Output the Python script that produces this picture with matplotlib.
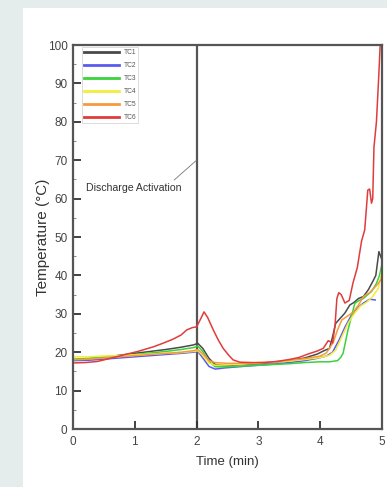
import matplotlib.pyplot as plt
from matplotlib.patches import Rectangle

# thermocouple readings, time in minutes, temperature in deg C
tc1_t = [0, 0.25, 0.5, 0.75, 1.0, 1.25, 1.5, 1.75, 1.95, 2.02, 2.1, 2.2, 2.3, 2.5, 2.75, 3.0,
         3.25, 3.5, 3.75, 3.95, 4.05, 4.15, 4.2, 4.25, 4.3, 4.4, 4.48, 4.55, 4.62, 4.7, 4.78,
         4.85, 4.9, 4.95, 5.0]
tc1_v = [18.0, 18.3, 18.7, 19.2, 19.7, 20.2, 20.7, 21.3, 21.9, 22.3, 21.0, 18.4, 16.8, 16.5,
         16.8, 17.0, 17.3, 17.8, 18.5, 19.5, 20.3, 21.0, 24.0, 27.5, 28.4, 30.2, 32.3, 33.0,
         34.0, 34.5, 36.3, 38.4, 40.0, 46.2, 44.0]

tc2_t = [0, 0.25, 0.5, 0.75, 1.0, 1.25, 1.5, 1.75, 1.95, 2.02, 2.1, 2.2, 2.3, 2.45, 2.75, 3.0,
         3.25, 3.5, 3.75, 3.95, 4.1, 4.2, 4.3, 4.4, 4.5, 4.6, 4.7, 4.8, 4.89]
tc2_v = [17.8, 17.9, 18.2, 18.5, 18.8, 19.1, 19.4, 19.7, 20.0, 20.2, 18.5, 16.3, 15.6, 15.9,
         16.3, 16.6, 16.9, 17.3, 17.8, 18.4, 19.0, 20.0, 23.0, 26.5, 29.5, 31.5, 32.8, 33.8, 33.6]

tc3_t = [0, 0.25, 0.5, 0.75, 1.0, 1.25, 1.5, 1.75, 1.95, 2.02, 2.1, 2.2, 2.3, 2.5, 2.75, 3.0,
         3.25, 3.5, 3.75, 4.0, 4.15, 4.28, 4.33, 4.37, 4.45, 4.56, 4.63, 4.7, 4.77, 4.83, 4.91,
         4.96, 5.0]
tc3_v = [18.2, 18.4, 18.8, 19.1, 19.4, 19.8, 20.2, 20.7, 21.2, 21.6, 20.2, 17.6, 16.2, 16.2,
         16.4, 16.6, 16.8, 17.0, 17.3, 17.5, 17.5, 17.8, 18.6, 19.7, 25.8, 32.7, 33.5, 34.0,
         35.0, 35.8, 37.9, 40.0, 43.0]

tc4_t = [0, 0.25, 0.5, 0.75, 1.0, 1.25, 1.5, 1.75, 1.95, 2.02, 2.1, 2.2, 2.3, 2.5, 2.75, 3.0,
         3.25, 3.5, 3.75, 4.0, 4.15, 4.25, 4.35, 4.45, 4.55, 4.65, 4.75, 4.85, 4.94, 5.0]
tc4_v = [18.8, 18.8, 19.0, 19.1, 19.3, 19.5, 19.7, 19.9, 20.2, 20.4, 19.2, 17.2, 16.6, 16.7,
         16.9, 17.2, 17.4, 17.7, 18.1, 18.6, 19.2, 20.5, 24.0, 27.5, 30.0, 32.0, 33.0, 34.5,
         36.6, 41.4]

tc5_t = [0, 0.25, 0.5, 0.75, 1.0, 1.25, 1.5, 1.75, 1.95, 2.02, 2.1, 2.2, 2.3, 2.5, 2.75, 3.0,
         3.25, 3.5, 3.75, 4.0, 4.1, 4.21, 4.28, 4.35, 4.45, 4.54, 4.62, 4.7, 4.8, 4.94, 5.0]
tc5_v = [18.0, 18.2, 18.5, 18.8, 19.1, 19.4, 19.7, 20.0, 20.4, 20.7, 19.6, 17.8, 17.3, 17.1,
         17.1, 17.3, 17.5, 17.9, 18.3, 19.0, 19.8, 22.5, 25.8, 28.4, 29.5, 30.5, 32.3, 34.5,
         35.5, 37.9, 39.3]

tc6_t = [0, 0.2, 0.4, 0.5, 0.7, 0.87, 1.05, 1.3, 1.45, 1.62, 1.75, 1.84, 1.93, 2.0, 2.06, 2.12,
         2.18, 2.27, 2.35, 2.43, 2.52, 2.59, 2.7, 2.9, 3.1, 3.3, 3.5, 3.65, 3.8, 3.95, 4.05,
         4.13, 4.2, 4.24, 4.27, 4.3, 4.34, 4.4, 4.47, 4.53, 4.6, 4.67, 4.72, 4.77, 4.8, 4.83,
         4.85, 4.87, 4.91, 4.95, 4.97]
tc6_v = [17.2, 17.3, 17.6, 18.0, 18.8, 19.5, 20.2, 21.4, 22.3, 23.4, 24.5, 25.8, 26.4, 26.6,
         28.5, 30.5, 29.0, 25.8, 23.2, 21.0, 19.2, 18.0, 17.4, 17.3, 17.3, 17.6, 18.1, 18.6,
         19.5, 20.3, 21.0, 23.0, 22.4, 27.0, 34.0, 35.5, 35.0, 32.8, 33.5, 38.0, 42.0, 49.0,
         51.8, 62.2, 62.5, 58.8, 60.0, 73.4, 80.0, 92.7, 100.0]

series = [("TC1", tc1_t, tc1_v, "#4a4a4a"),
          ("TC2", tc2_t, tc2_v, "#5b5bf0"),
          ("TC3", tc3_t, tc3_v, "#3cd23c"),
          ("TC4", tc4_t, tc4_v, "#f2ee3a"),
          ("TC5", tc5_t, tc5_v, "#f79a3e"),
          ("TC6", tc6_t, tc6_v, "#e03c3c")]

activation_time = 2.0

plt.rcParams['font.family'] = ['Liberation Sans', 'DejaVu Sans']

fig = plt.figure(figsize=(3.87, 4.87), dpi=100, facecolor="#e4ecec")
# white card behind the chart
card = Rectangle((23 / 387, 0), 1, 1 - 8 / 487, transform=fig.transFigure,
                 facecolor="white", edgecolor="none", zorder=-10)
fig.add_artist(card)

ax = fig.add_axes([73 / 387, 58 / 487, 309 / 387, 384 / 487])
ax.set_facecolor("white")

for name, t, v, c in series:
    ax.plot(t, v, color=c, lw=1.1, label=name)

ax.axvline(activation_time, color="#555555", lw=1.6, zorder=1)
ax.annotate("Discharge Activation", xy=(activation_time, 70), xytext=(0.21, 62.8),
            fontsize=7.6, color="#333333", va="center",
            arrowprops=dict(arrowstyle="-", color="#777777", lw=0.6, shrinkA=0, shrinkB=0,
                            relpos=(0.89, 1.0)))

ax.set_xlim(0, 5)
ax.set_ylim(0, 100)
ax.set_xticks(range(0, 6))
ax.set_yticks(range(0, 101, 10))
ax.set_yticks(range(5, 100, 10), minor=True)
ax.tick_params(axis="both", which="major", direction="in", length=6, width=1.3,
               color="#333333", labelsize=8.5, labelcolor="#444444")
ax.tick_params(axis="y", which="minor", direction="in", length=2.5, width=0.7, color="#888888")
ax.tick_params(axis="x", pad=5)
ax.tick_params(axis="y", pad=4)

for s in ax.spines.values():
    s.set_color("#555555")
    s.set_linewidth(1.6)

ax.set_xlabel("Time (min)", fontsize=9.5, color="#333333", labelpad=6)
ax.set_ylabel("Temperature (°C)", fontsize=11, color="#333333")
ax.yaxis.set_label_coords(-0.074, 0.5)

leg = ax.legend(loc="upper left", bbox_to_anchor=(0.029, 0.995), fontsize=4.8,
                frameon=True, fancybox=False, handlelength=5.2, handletextpad=0.75,
                labelspacing=0.9, borderaxespad=0, borderpad=0.3)
leg.get_frame().set_edgecolor("#cccccc")
leg.get_frame().set_linewidth(0.6)
for line in leg.get_lines():
    line.set_linewidth(2.0)
for txt in leg.get_texts():
    txt.set_color("#555555")

fig.savefig("out.png", dpi=100, facecolor=fig.get_facecolor())
